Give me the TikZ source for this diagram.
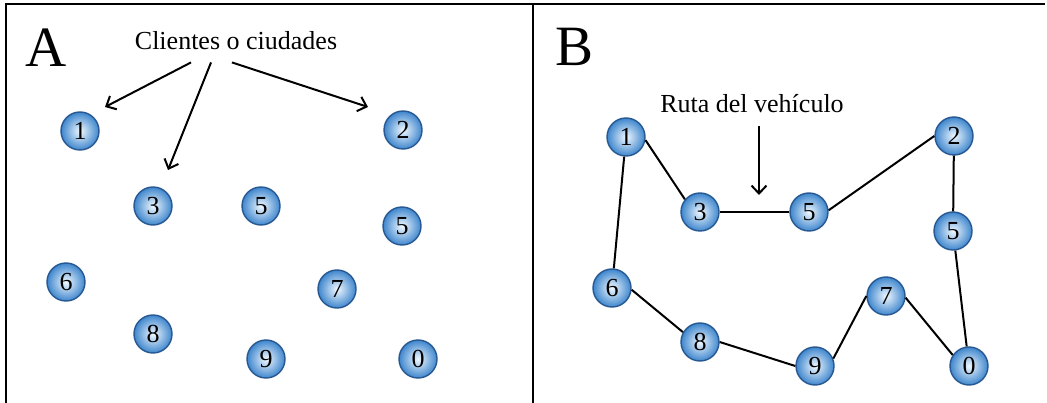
\documentclass[tikz,border=0pt]{standalone}
\usepackage{fontspec}
\setmainfont{Liberation Serif}
\usetikzlibrary{calc,arrows.meta}
\definecolor{bolaborde}{RGB}{40,88,145}
\definecolor{bolafuera}{RGB}{62,134,205}
\definecolor{bolacentro}{RGB}{240,248,255}

\begin{document}
\begin{tikzpicture}[x=1pt,y=-1pt,
		cliente/.style={circle, draw=bolaborde, line width=1.4pt, inner color=bolacentro, outer color=bolafuera, minimum size=38pt, inner sep=0pt, font=\fontsize{26}{26}\selectfont},
		etiqueta/.style={inner sep=0pt, anchor=base, font=\fontsize{26}{26}\selectfont},
		letra/.style={inner sep=0pt, anchor=base, font=\fontsize{57}{57}\selectfont},
		flecha/.style={line width=2pt, -{Straight Barb[length=8pt,width=15pt]}},
		tramo/.style={line width=2pt}]
		\useasboundingbox (0,0) rectangle (1047,403);
		% marco
		\draw [line width=2pt] (5.5,403) -- (5.5,4.5) -- (1045,4.5);
		\draw [line width=1.8pt] (533,4.5) -- (533,403);
		% panel A
		\node [letra] (letraA) at (46,67) {A};
		\node [etiqueta] (clientes) at (236,50) {Clientes o ciudades};
		\node [cliente] (a1) at (80,131) {1};
		\node [cliente] (a2) at (403,130) {2};
		\node [cliente] (a3) at (153,206) {3};
		\node [cliente] (a5) at (261,206) {5};
		\node [cliente] (a5x) at (402,226) {5};
		\node [cliente] (a6) at (66,282) {6};
		\node [cliente] (a7) at (337,289) {7};
		\node [cliente] (a8) at (153,334) {8};
		\node [cliente] (a9) at (266,359) {9};
		\node [cliente] (a0) at (418,359) {0};
		\coordinate (punta1) at (105,107);
		\coordinate (punta3) at (168,170);
		\coordinate (punta2) at (368,107);
		\draw [flecha] ($(clientes.south)+(-45,12)$) -- (punta1);
		\draw [flecha] ($(clientes.south)+(-25,12)$) -- (punta3);
		\draw [flecha] ($(clientes.south)+(-4,12)$) -- (punta2);
		% panel B
		\node [letra] (letraB) at (575,66) {B};
		\node [etiqueta] (ruta) at (752,113) {Ruta del vehículo};
		\node [cliente] (b1) at (626,137) {1};
		\node [cliente] (b2) at (954,136) {2};
		\node [cliente] (b3) at (700,212) {3};
		\node [cliente] (b5) at (809,212) {5};
		\node [cliente] (b5x) at (953,231) {5};
		\node [cliente] (b6) at (612,288) {6};
		\node [cliente] (b7) at (886,296) {7};
		\node [cliente] (b8) at (700,342) {8};
		\node [cliente] (b9) at (815,366) {9};
		\node [cliente] (b0) at (969,366) {0};
		% la ruta
		\draw [tramo] (b1.-9) -- (b3.140);
		\draw [tramo] (b3) -- (b5);
		\draw [tramo] (b5.5) -- (b2.180);
		\draw [tramo] (b2) -- (b5x);
		\draw [tramo] (b5x) -- (b0);
		\draw [tramo] (b0.146) -- (b7.-5);
		\draw [tramo] (b7.180) -- (b9.22);
		\draw [tramo] (b9.180) -- (b8.0);
		\draw [tramo] (b8.150) -- (b6.-5);
		\draw [tramo] (b6) -- (b1);
		\coordinate (puntaR) at (759,195);
		\draw [flecha] ($(ruta.south)+(7,13)$) -- (puntaR);
	\end{tikzpicture}
\end{document}
